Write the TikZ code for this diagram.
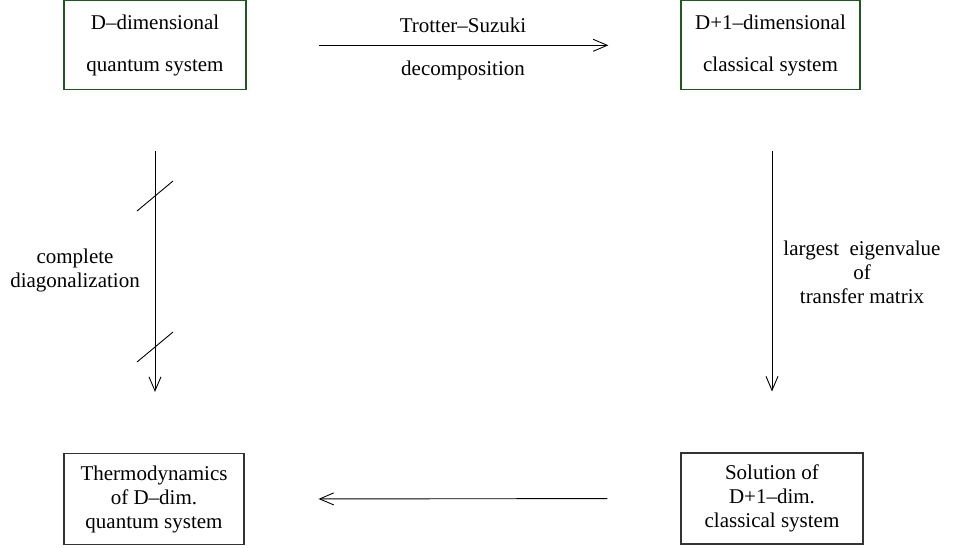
\documentclass[tikz,border=0pt]{standalone}
\usepackage{fontspec}
\setmainfont{Liberation Serif}
\usetikzlibrary{arrows.meta,calc}
\definecolor{boxgreen}{RGB}{30,90,30}
\begin{document}
\begin{tikzpicture}[x=1pt,y=-1pt,
  txt/.style={font=\fontsize{21}{24}\selectfont, align=center, inner sep=0pt},
  topbox/.style={draw=boxgreen, line width=1.3pt, minimum height=89pt, inner sep=0pt,
     font=\fontsize{21}{42}\selectfont, align=center},
  botbox/.style={draw=black!80, line width=1.1pt, minimum height=91pt, inner sep=0pt,
     font=\fontsize{21}{24}\selectfont, align=center},
  conn/.style={line width=0.9pt, -{Straight Barb[length=14pt,width=12pt,line width=0.9pt]}},
  slash/.style={line width=0.9pt}]
\useasboundingbox (0,0) rectangle (974,547);
\node[topbox, minimum width=182pt] (tl) at (155,45.3) {D–dimensional\\quantum system};
\node[topbox, minimum width=179pt] (tr) at (770.5,45.3) {D+1–dimensional\\classical system};
\node[botbox, minimum width=180pt] (bl) at (154,499) {Thermodynamics\\of D–dim.\\quantum system};
\node[botbox, minimum width=182pt] (br) at (772,498.5) {Solution of\\D+1–dim.\\classical system};
% top arrow
\draw[conn, shorten <=72pt, shorten >=72pt] (tl.east) -- (tr.west);
\node[txt] (ts) at (463,25) {Trotter–Suzuki};
\node[txt] (dc) at (463,70) {decomposition};
% left arrow
\draw[conn, shorten <=61pt, shorten >=61pt] (tl.south) -- (tl.south |- bl.north);
\coordinate (s1) at (155,196);
\coordinate (s2) at (155,347);
\draw[slash] ($(s1)+(-18,15)$) -- ($(s1)+(18,-15)$);
\draw[slash] ($(s2)+(-18,15)$) -- ($(s2)+(18,-15)$);
\node[txt] (cd) at (75,270) {complete\\diagonalization};
% right arrow
\draw[conn, shorten <=61pt, shorten >=61pt] (br.north |- tr.south) -- (br.north);
\node[txt] (le) at (862,272) {largest\ \ eigenvalue\\of\\transfer matrix};
% bottom arrow
\draw[conn, shorten <=73pt, shorten >=74pt] (br.west) -- (bl.east);
\end{tikzpicture}
\end{document}
